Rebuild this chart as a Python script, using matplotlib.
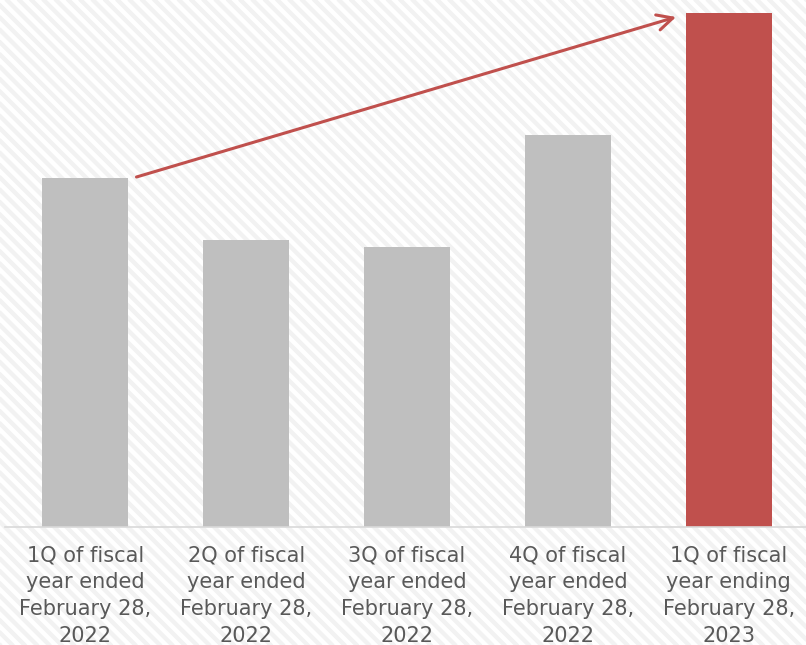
import numpy as np
import matplotlib.pyplot as plt

plt.rcParams['font.family'] = ['DejaVu Sans']

categories = [
    '1Q of fiscal\nyear ended\nFebruary 28,\n2022',
    '2Q of fiscal\nyear ended\nFebruary 28,\n2022',
    '3Q of fiscal\nyear ended\nFebruary 28,\n2022',
    '4Q of fiscal\nyear ended\nFebruary 28,\n2022',
    '1Q of fiscal\nyear ending\nFebruary 28,\n2023',
]
values = [349, 287, 280, 392, 514]
bar_colors = ['#BFBFBF', '#BFBFBF', '#BFBFBF', '#BFBFBF', '#C0504D']

W, H = 806, 645
fig = plt.figure(figsize=(W / 100, H / 100), dpi=100)

# striped background over the whole figure (pixel coordinates)
bg = fig.add_axes([0, 0, 1, 1], zorder=-10)
bg.set_xlim(0, W)
bg.set_ylim(0, H)
bg.axis('off')
period = 12.3
for c in np.arange(0, W + H + period, period):
    bg.plot([c - H - 10, c + 10], [H + 10, -10], color='#F2F2F2', lw=3.1,
            solid_capstyle='butt')

ax = fig.add_axes([5 / W, 118 / H, 801 / W, 527 / H])
ax.set_facecolor('none')

x = np.arange(len(values))
width = 0.535
ax.bar(x, values, width=width, color=bar_colors, zorder=2)

ax.set_xlim(-0.5, len(values) - 0.52)
ax.set_ylim(0, 527)

ax.annotate('', xy=(4 - width / 2 - 0.06, values[4] - 4),
            xytext=(width / 2 + 0.05, values[0] + 1),
            arrowprops=dict(arrowstyle='->', color='#C0504D', lw=2.2,
                            mutation_scale=28, shrinkA=0, shrinkB=0),
            annotation_clip=False, zorder=3)

for side in ['top', 'right', 'left']:
    ax.spines[side].set_visible(False)
ax.spines['bottom'].set_color('#D9D9D9')
ax.spines['bottom'].set_linewidth(1.2)
ax.set_yticks([])
ax.set_xticks(x)
ax.set_xticklabels(categories, color='#595959', fontsize=15, linespacing=1.43)
ax.tick_params(axis='x', length=0, pad=13)

fig.savefig('out.png', dpi=100)
